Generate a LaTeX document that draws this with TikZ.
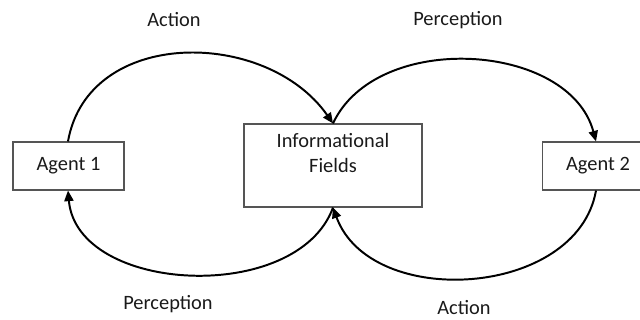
\documentclass[tikz,border=0pt]{standalone}
\usepackage{fontspec}
\setmainfont{Carlito}
\usetikzlibrary{arrows.meta, positioning}
\definecolor{fldgray}{HTML}{555555}
\definecolor{fldtext}{HTML}{1A1A1A}

\begin{document}
\begin{tikzpicture}[
  x=0.025cm, y=0.025cm,
  every node/.style={font=\fontsize{14.5}{17.5}\selectfont, text=fldtext},
  box/.style={rectangle, draw=fldgray, line width=0.8pt, minimum width=#1, align=center},
  agentbox/.style={box=2.775cm, minimum height=1.2cm},
  arc/.style={-{Triangle[length=7.5pt, width=6.5pt]}, line width=1.4pt, black},
]
\useasboundingbox (0,0) rectangle (640,320);

% Agents and fields
\node[agentbox] (ag1) at (68.5,154) {Agent 1};
\node[box=4.45cm, minimum height=2.075cm] (info) at (333,154.5) {Informational\\Fields\\\mbox{}};
\node[agentbox] (ag2) at (598,154) {Agent 2};

% Loops
\draw[arc] (ag1.north -| 68,0) to[out=80, in=125, looseness=1.12] (info.north);
\draw[arc] (info.north) to[out=65, in=105] (ag2.north -| 596,0);
\draw[arc] (info.south) to[out=-110, in=-85] (ag1.south -| 68,0);
\draw[arc] (ag2.south -| 596,0) to[out=-100, in=-70, looseness=1.06] (info.south);

% Labels
\node (act1) at (174,300) {Action};
\node (per1) at (458,300) {Perception};
\node (per2) at (168,16) {Perception};
\node (act2) at (464,12) {Action};

\end{tikzpicture}
\end{document}
